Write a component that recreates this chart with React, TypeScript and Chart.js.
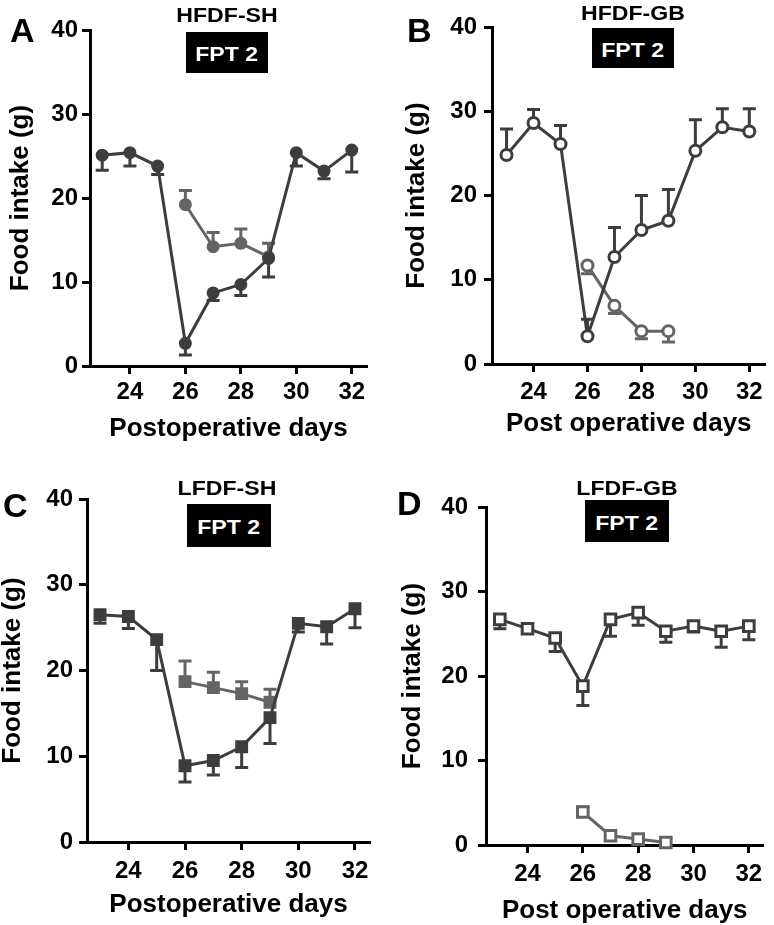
import React, { useEffect, useRef } from 'react';
import { Chart, registerables } from 'chart.js';
Chart.register(...registerables);

// ---------- data ----------
const days = [23, 24, 25, 26, 27, 28, 29, 30, 31, 32];
const daysFpt = [26, 27, 28, 29];
const xTickValues = [24, 26, 28, 30, 32];
const yTickValues = [0, 10, 20, 30, 40];

// A: HFDF-SH
const hfdfShMain = [25.1, 25.4, 23.8, 2.7, 8.7, 9.7, 12.8, 25.4, 23.2, 25.7];
const hfdfShMainSem = [1.8, 1.6, 1.0, 1.4, 0.9, 1.3, 2.2, 1.6, 0.9, 2.6];
const hfdfShFpt = [19.2, 14.2, 14.6, 13.0];
const hfdfShFptSem = [1.7, 1.7, 1.7, 1.6];

// B: HFDF-GB
const hfdfGbMain = [24.8, 28.6, 26.1, 3.3, 12.7, 15.9, 17.0, 25.3, 28.1, 27.6];
const hfdfGbMainSem = [3.1, 1.6, 2.2, 2.0, 3.5, 4.1, 3.7, 3.7, 2.2, 2.7];
const hfdfGbFpt = [11.7, 6.9, 3.9, 3.9];
const hfdfGbFptSem = [1.0, 0.9, 0.9, 1.3];

// C: LFDF-SH
const lfdfShMain = [26.5, 26.3, 23.6, 8.9, 9.5, 11.1, 14.5, 25.5, 25.1, 27.2];
const lfdfShMainSem = [1.0, 1.4, 3.6, 1.9, 1.7, 2.4, 3.0, 1.0, 2.0, 2.2];
const lfdfShFpt = [18.7, 18.0, 17.3, 16.3];
const lfdfShFptSem = [2.4, 1.8, 1.4, 1.5];

// D: LFDF-GB
const lfdfGbMain = [26.7, 25.6, 24.5, 18.8, 26.7, 27.5, 25.3, 25.9, 25.3, 25.9];
const lfdfGbMainSem = [1.1, 0.3, 1.6, 2.3, 2.0, 1.5, 1.3, 0.7, 1.9, 1.6];
const lfdfGbFpt = [3.9, 1.1, 0.7, 0.3];
const lfdfGbFptSem = [0.6, 0, 0, 0];

const yTitle = 'Food intake (g)';
const FONT = "'Liberation Sans', Arial, Helvetica, sans-serif";
const DARK = '#3d3d3d';
const GRAY = '#646464';

// ---------- error bars ----------
const errorBarPlugin = {
  id: 'errorBars',
  beforeDatasetsDraw(chart: any) {
    const ctx = chart.ctx;
    const xs = chart.scales.x;
    const ys = chart.scales.y;
    const list = chart.data.datasets.slice().reverse();
    list.forEach((ds: any) => {
      if (!ds.sem) return;
      ctx.save();
      ctx.strokeStyle = ds.borderColor;
      ctx.lineWidth = 3;
      ds.data.forEach((p: any, j: number) => {
        const e = ds.sem[j];
        if (!e) return;
        const px = xs.getPixelForValue(p.x);
        const py = ys.getPixelForValue(p.y);
        const ey = ys.getPixelForValue(p.y + ds.semDir * e);
        ctx.beginPath();
        ctx.moveTo(px, py);
        ctx.lineTo(px, ey);
        ctx.moveTo(px - 6.5, ey);
        ctx.lineTo(px + 6.5, ey);
        ctx.stroke();
      });
      ctx.restore();
    });
  },
};

const toPts = (xs: number[], ys: number[]) => xs.map((x, i) => ({ x, y: ys[i] }));

type PanelCfg = {
  left: number; top: number; w: number; h: number;
  padTop: number; padRight: number; yWidth: number; xHeight: number;
  xMin: number; xMax: number; xTitle: string;
  xTitlePad: number; yTitlePad: number; xTickPad: number; yTickPad: number;
  pointStyle: string; radius: number; filled: boolean;
  main: number[]; mainSem: number[]; mainDir: number;
  fpt: number[]; fptSem: number[]; fptDir: number;
};

const panels: PanelCfg[] = [
  {
    left: 0, top: 0, w: 387, h: 460, padTop: 30, padRight: 20, yWidth: 90, xHeight: 94,
    xMin: 22.56, xMax: 32.55, xTitle: 'Postoperative days',
    xTitlePad: 18, yTitlePad: 8, xTickPad: 6.5, yTickPad: 4,
    pointStyle: 'circle', radius: 5, filled: true,
    main: hfdfShMain, mainSem: hfdfShMainSem, mainDir: -1,
    fpt: hfdfShFpt, fptSem: hfdfShFptSem, fptDir: 1,
  },
  {
    left: 387, top: 0, w: 387, h: 460, padTop: 27, padRight: 0, yWidth: 105, xHeight: 96,
    xMin: 22.46, xMax: 32.6, xTitle: 'Post operative days',
    xTitlePad: 23, yTitlePad: 17, xTickPad: 8.5, yTickPad: 7,
    pointStyle: 'circle', radius: 5.5, filled: false,
    main: hfdfGbMain, mainSem: hfdfGbMainSem, mainDir: 1,
    fpt: hfdfGbFpt, fptSem: hfdfGbFptSem, fptDir: -1,
  },
  {
    left: 0, top: 460, w: 387, h: 465, padTop: 39, padRight: 17, yWidth: 87, xHeight: 83,
    xMin: 22.54, xMax: 32.53, xTitle: 'Postoperative days',
    xTitlePad: 7, yTitlePad: 0, xTickPad: 9.5, yTickPad: 6,
    pointStyle: 'rect', radius: 7, filled: true,
    main: lfdfShMain, mainSem: lfdfShMainSem, mainDir: -1,
    fpt: lfdfShFpt, fptSem: lfdfShFptSem, fptDir: 1,
  },
  {
    left: 387, top: 460, w: 387, h: 465, padTop: 47, padRight: 9, yWidth: 99, xHeight: 80,
    xMin: 22.5, xMax: 32.53, xTitle: 'Post operative days',
    xTitlePad: 1, yTitlePad: 13, xTickPad: 9, yTickPad: 10,
    pointStyle: 'rect', radius: 7.5, filled: false,
    main: lfdfGbMain, mainSem: lfdfGbMainSem, mainDir: -1,
    fpt: lfdfGbFpt, fptSem: lfdfGbFptSem, fptDir: 1,
  },
];

const letters = [
  { t: 'A', x: 10, base: 42 },
  { t: 'B', x: 407, base: 42 },
  { t: 'C', x: 3, base: 517 },
  { t: 'D', x: 397, base: 515 },
];
const titles = [
  { t: 'HFDF-SH', cx: 227, base: 22 },
  { t: 'HFDF-GB', cx: 633, base: 20 },
  { t: 'LFDF-SH', cx: 227, base: 495 },
  { t: 'LFDF-GB', cx: 627, base: 495 },
];
const boxes = [
  { x: 186, y: 32, w: 82, h: 41 },
  { x: 592, y: 28, w: 82, h: 40 },
  { x: 187, y: 504, w: 84, h: 43 },
  { x: 585, y: 500, w: 84, h: 42 },
];
const boxLabel = 'FPT 2';

function Panel({ cfg }: { cfg: PanelCfg }) {
  const ref = useRef<HTMLCanvasElement>(null);
  useEffect(() => {
    const mk = (data: number[], sem: number[], dir: number, xsArr: number[], color: string) => ({
      data: toPts(xsArr, data),
      sem, semDir: dir,
      borderColor: color,
      backgroundColor: color,
      borderWidth: 3,
      pointStyle: cfg.pointStyle,
      pointRadius: cfg.radius,
      pointBackgroundColor: cfg.filled ? color : '#ffffff',
      pointBorderColor: color,
      pointBorderWidth: 3,
      pointHoverRadius: cfg.radius,
      tension: 0,
      clip: false,
    });
    const chart = new Chart(ref.current as HTMLCanvasElement, {
      type: 'line',
      data: {
        datasets: [
          mk(cfg.main, cfg.mainSem, cfg.mainDir, days, DARK),
          mk(cfg.fpt, cfg.fptSem, cfg.fptDir, daysFpt, GRAY),
        ] as any,
      },
      options: {
        animation: false,
        responsive: false,
        maintainAspectRatio: false,
        events: [],
        layout: { padding: { top: cfg.padTop, right: cfg.padRight, left: 0, bottom: 0 } },
        plugins: { legend: { display: false }, tooltip: { enabled: false } },
        scales: {
          x: {
            type: 'linear',
            min: cfg.xMin,
            max: cfg.xMax,
            afterBuildTicks: (s: any) => { s.ticks = xTickValues.map((v) => ({ value: v })); },
            afterFit: (s: any) => { s.height = cfg.xHeight; s.paddingLeft = 0; s.paddingRight = 0; },
            grid: { display: true, drawOnChartArea: false, drawTicks: true, tickLength: 8, tickWidth: 3, tickColor: '#000' },
            border: { display: true, width: 3, color: '#000' },
            ticks: {
              autoSkip: false, maxRotation: 0, color: '#000', padding: cfg.xTickPad,
              font: { family: FONT, size: 24, weight: 'bold', lineHeight: 1 },
            },
            title: {
              display: true, text: cfg.xTitle, color: '#000', padding: cfg.xTitlePad,
              font: { family: FONT, size: 26, weight: 'bold', lineHeight: 1 },
            },
          },
          y: {
            type: 'linear',
            min: 0,
            max: 40,
            afterBuildTicks: (s: any) => { s.ticks = yTickValues.map((v) => ({ value: v })); },
            afterFit: (s: any) => { s.width = cfg.yWidth; s.paddingTop = 0; s.paddingBottom = 0; },
            grid: { display: true, drawOnChartArea: false, drawTicks: true, tickLength: 8, tickWidth: 3, tickColor: '#000' },
            border: { display: true, width: 3, color: '#000' },
            ticks: {
              color: '#000', padding: cfg.yTickPad,
              font: { family: FONT, size: 24, weight: 'bold', lineHeight: 1 },
            },
            title: {
              display: true, text: yTitle, color: '#000', padding: cfg.yTitlePad,
              font: { family: FONT, size: 26, weight: 'bold', lineHeight: 1 },
            },
          },
        },
      } as any,
      plugins: [errorBarPlugin],
    });
    return () => chart.destroy();
  }, [cfg]);
  return (
    <canvas
      ref={ref}
      width={cfg.w}
      height={cfg.h}
      style={{ position: 'absolute', left: cfg.left, top: cfg.top, width: cfg.w, height: cfg.h, display: 'block' }}
    />
  );
}

export default function App() {
  return (
    <div style={{ position: 'absolute', left: 0, top: 0, width: 774, height: 925, background: '#fff', overflow: 'hidden', fontFamily: FONT }}>
      {panels.map((p, i) => <Panel key={i} cfg={p} />)}
      {letters.map((l, i) => (
        <div key={'l' + i} style={{ position: 'absolute', left: l.x, top: l.base - 0.8465 * 34, fontSize: 34, lineHeight: '34px', fontWeight: 'bold', color: '#000', whiteSpace: 'nowrap' }}>{l.t}</div>
      ))}
      {titles.map((t, i) => (
        <div key={'t' + i} style={{ position: 'absolute', left: t.cx - 150, width: 300, textAlign: 'center', top: t.base - 0.8465 * 21, fontSize: 21, lineHeight: '21px', fontWeight: 'bold', color: '#000', transform: 'scaleX(1.1)', whiteSpace: 'nowrap' }}>{t.t}</div>
      ))}
      {boxes.map((b, i) => (
        <div key={'b' + i} style={{ position: 'absolute', left: b.x, top: b.y, width: b.w, height: b.h, background: '#000', display: 'flex', alignItems: 'center', justifyContent: 'center' }}>
          <span style={{ color: '#fff', fontSize: 21, lineHeight: '21px', fontWeight: 'bold', transform: 'scaleX(1.1)', whiteSpace: 'nowrap', marginTop: 2 }}>{boxLabel}</span>
        </div>
      ))}
    </div>
  );
}
